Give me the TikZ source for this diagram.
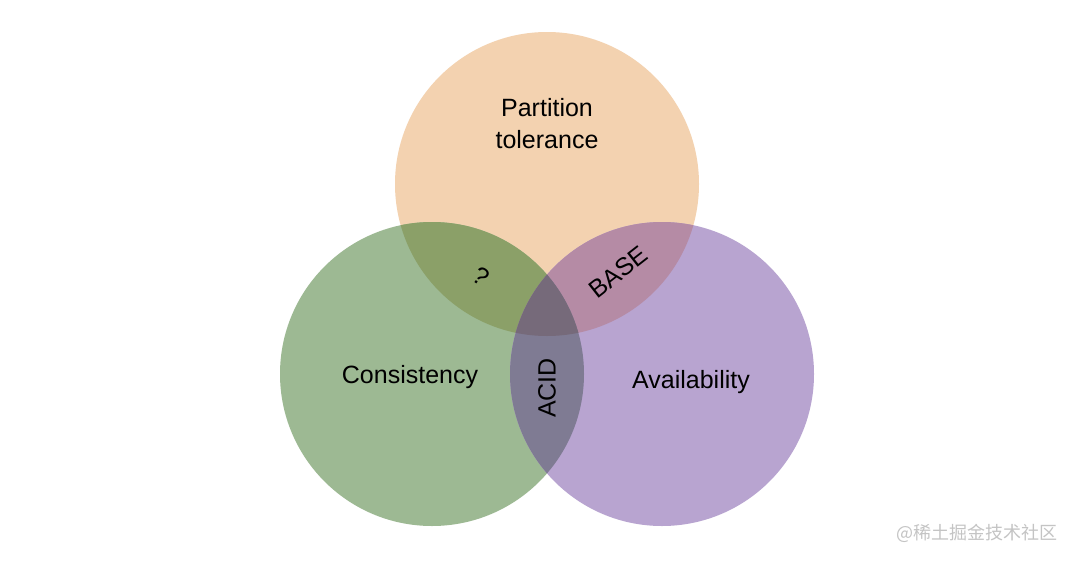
\documentclass[tikz,border=0pt]{standalone}
\usepackage{fontspec}
\setmainfont{Liberation Sans}
\newfontfamily\cjk{Noto Sans CJK SC}
\definecolor{cP}{HTML}{F3D2B0}
\definecolor{cC}{HTML}{9DB993}
\definecolor{cA}{HTML}{B8A4D0}
\definecolor{cPC}{HTML}{8BA068}
\definecolor{cPA}{HTML}{B58BA5}
\definecolor{cCA}{HTML}{7F7B93}
\definecolor{cPCA}{HTML}{766A7A}
\definecolor{wm}{HTML}{C4C4C4}
\tikzset{
  lbl/.style={inner sep=0pt, font=\fontsize{25}{32}\selectfont, text=black, align=center},
}
\begin{document}
\begin{tikzpicture}[x=1pt,y=-1pt]
\useasboundingbox (0,0) rectangle (1074,560);
\fill[white] (0,0) rectangle (1074,560);
\def\R{152}
\coordinate (cp) at (547,184);
\coordinate (cc) at (432,374);
\coordinate (ca) at (662,374);
\fill[cP] (cp) circle (\R);
\fill[cC] (cc) circle (\R);
\fill[cA] (ca) circle (\R);
\begin{scope}
  \clip (cp) circle (\R);
  \fill[cPC] (cc) circle (\R);
  \fill[cPA] (ca) circle (\R);
\end{scope}
\begin{scope}
  \clip (cc) circle (\R);
  \fill[cCA] (ca) circle (\R);
  \clip (ca) circle (\R);
  \fill[cPCA] (cp) circle (\R);
\end{scope}
\node[lbl] (pt) at (547,124) {Partition\\tolerance};
\node[lbl] (cons) at (410,377) {Consistency};
\node[lbl] (avail) at (691,382) {Availability};
\node[lbl, rotate=90] (acid) at (547,388) {ACID};
\node[lbl, rotate=38] (base) at (618,272) {BASE};
\node[lbl, rotate=-35] (q) at (481,276) {?};
\node[inner sep=0pt, text=wm, font=\cjk\fontsize{18}{20}\selectfont] (wmk) at (977,533) {@稀土掘金技术社区};
\end{tikzpicture}
\end{document}
